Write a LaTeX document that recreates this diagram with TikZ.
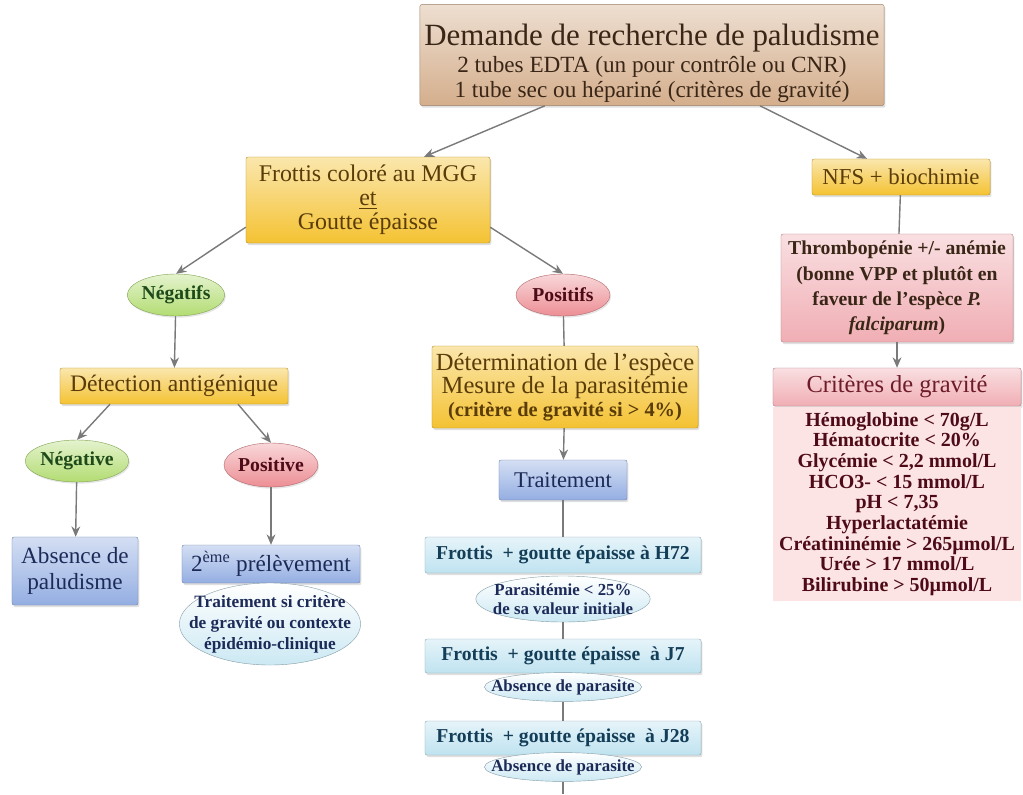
\documentclass[tikz,border=0pt]{standalone}
\usepackage{fontspec}
\setmainfont{Liberation Serif}
\usetikzlibrary{arrows.meta, positioning, shapes.geometric, shadows}
\definecolor{cbrown}{HTML}{D4AE8C}
\definecolor{cyellow}{HTML}{F4C232}
\definecolor{cblue}{HTML}{94AEE2}
\definecolor{cpink}{HTML}{F0AEB4}
\definecolor{clight}{HTML}{BFE3F0}
\definecolor{cgreen}{HTML}{B2DC72}
\definecolor{cred}{HTML}{EC8E94}
\definecolor{cbody}{HTML}{FCE4E4}
\definecolor{cgrey}{HTML}{7A7A7A}
\definecolor{tbrown}{HTML}{3A2616}
\definecolor{tolive}{HTML}{5A3C08}
\definecolor{tgreen}{HTML}{1E4A1A}
\definecolor{tred}{HTML}{4E0A16}
\definecolor{tnavy}{HTML}{1C2A58}
\definecolor{tteal}{HTML}{143E58}
\definecolor{tcrit}{HTML}{6E1C2A}
\tikzset{
  every picture/.style={line width=1.2pt},
  box/.style={draw=#1!75!black, line width=0.3pt, top color=#1!40!white, bottom color=#1,
    rounded corners=1.5pt, align=center, inner sep=2pt,
    drop shadow={opacity=0.25, shadow xshift=1pt, shadow yshift=-1.5pt}},
  box/.default=cyellow,
  oval/.style={ellipse, draw=#1!75!black, line width=0.3pt, top color=#1!35!white, bottom color=#1,
    align=center, inner sep=0pt, font=\fontsize{14}{15}\selectfont\bfseries,
    drop shadow={opacity=0.2, shadow xshift=0.8pt, shadow yshift=-1.2pt}},
  pale/.style={ellipse, draw=clight!70!black, line width=0.3pt, top color=white, bottom color=clight!80,
    align=center, inner xsep=-6pt, inner ysep=-2pt, text=tnavy, font=\fontsize{12}{14}\selectfont\bfseries},
  arrow/.style={-{Stealth[length=2.6mm, width=2.2mm]}, draw=cgrey, line width=1pt},
  link/.style={draw=cgrey, line width=1pt},
}
\begin{document}
\begin{tikzpicture}[x=0.025cm, y=-0.025cm]
  \useasboundingbox (0,0) rectangle (1023,794);
  % request
  \node[box=cbrown, text=tbrown, minimum width=11.6cm, minimum height=2.5cm,
    text height=64pt, text depth=4pt, font=\fontsize{16.5}{17.5}\selectfont] (req) at (652,55)
    {{\fontsize{22}{24}\selectfont Demande de recherche de paludisme}\\[2pt]
     2 tubes EDTA (un pour contrôle ou CNR)\\
     1 tube sec ou hépariné (critères de gravité)};
  % microscopy branch
  \node[box=cyellow, text=tolive, minimum width=6.1cm, minimum height=2.15cm,
    font=\fontsize{17}{17}\selectfont] (mgg) at (368,200)
    {Frottis coloré au MGG\\ \underline{et}\\ Goutte épaisse};
  \node[oval=cgreen, text=tgreen, minimum width=2.35cm, minimum height=1.05cm] (neg) at (176,295) {Négatifs};
  \node[oval=cred, text=tred, minimum width=2.35cm, minimum height=1.05cm] (pos) at (563,295) {Positifs};
  \node[box=cyellow, text=tolive, minimum width=5.7cm, minimum height=0.9cm,
    font=\fontsize{16.8}{18}\selectfont] (ag) at (174,386) {Détection antigénique};
  \node[oval=cgreen, text=tgreen, minimum width=2.25cm, minimum height=1.05cm] (agneg) at (77,461) {Négative};
  \node[oval=cred, text=tred, minimum width=2.35cm, minimum height=1.1cm] (agpos) at (271,465) {Positive};
  \node[box=cblue, text=tnavy, minimum width=3.15cm, minimum height=1.7cm,
    font=\fontsize{16.5}{19}\selectfont] (abs) at (75,571) {Absence de\\paludisme};
  \node[box=cblue, text=tnavy, minimum width=4.45cm, minimum height=0.95cm,
    font=\fontsize{16.5}{18}\selectfont] (redo) at (271,564) {2\textsuperscript{ème} prélèvement};
  \node[pale, inner xsep=-12pt, minimum width=4.5cm, minimum height=2.05cm,
    font=\fontsize{12.3}{15}\selectfont\bfseries] (redonote) at (270,624)
    {Traitement si critère\\de gravité ou contexte\\épidémio-clinique};
  % positive follow-up
  \node[box=cyellow, text=tolive, minimum width=6.65cm, minimum height=2.05cm,
    font=\fontsize{17.5}{16.5}\selectfont] (spec) at (565,387)
    {Détermination de l’espèce\\ Mesure de la parasitémie\\
     {\fontsize{14.5}{14}\selectfont\bfseries (critère de gravité si > 4\%)}};
  \node[box=cblue, text=tnavy, minimum width=3.2cm, minimum height=1cm,
    font=\fontsize{16}{18}\selectfont] (trt) at (563,480) {Traitement};
  \node[box=clight, text=tteal, minimum width=6.9cm, minimum height=0.9cm,
    font=\fontsize{14}{15}\selectfont\bfseries] (h72) at (563,555) {Frottis~ + goutte épaisse à H72};
  \node[pale, inner ysep=-2.5pt, minimum width=4.25cm, minimum height=1.15cm,
    font=\fontsize{12}{13.5}\selectfont\bfseries] (h72note) at (563,599)
    {Parasitémie < 25\%\\de sa valeur initiale};
  \node[box=clight, text=tteal, minimum width=6.9cm, minimum height=0.85cm,
    font=\fontsize{14}{15}\selectfont\bfseries] (j7) at (563,656) {Frottis~ + goutte épaisse~ à J7};
  \node[pale, inner xsep=-11.5pt, inner ysep=0pt, minimum width=3.9cm, minimum height=0.72cm] (j7note) at (563,687) {Absence de parasite};
  \node[box=clight, text=tteal, minimum width=6.9cm, minimum height=0.85cm,
    font=\fontsize{14}{15}\selectfont\bfseries] (j28) at (563,738) {Frottis~ + goutte épaisse~ à J28};
  \node[pale, inner xsep=-11.5pt, inner ysep=0pt, minimum width=3.9cm, minimum height=0.72cm] (j28note) at (563,767) {Absence de parasite};
  \coordinate (end) at (563,794);
  % biology branch
  \node[box=cyellow, text=tolive, minimum width=4.45cm, minimum height=0.9cm,
    font=\fontsize{16.2}{18}\selectfont] (nfs) at (901,177) {NFS + biochimie};
  \node[box=cpink, text=tbrown, minimum width=5.8cm, minimum height=2.7cm,
    font=\fontsize{14}{18}\selectfont\bfseries] (thr) at (897,288)
    {Thrombopénie +/- anémie\\(bonne VPP et plutôt en\\faveur de l’espèce \textit{P.}\\\textit{falciparum})};
  \node[box=cpink, text=tcrit, minimum width=6.2cm, minimum height=0.95cm,
    font=\fontsize{17.4}{18}\selectfont] (crit) at (897,387) {Critères de gravité};
  \node[fill=cbody, text=tred, minimum width=6.2cm, minimum height=4.85cm, inner sep=0pt, align=center,
    anchor=north, font=\fontsize{14.2}{14.7}\selectfont\bfseries] (critlist) at (crit.south)
    {Hémoglobine < 70g/L\\ Hématocrite < 20\%\\ Glycémie < 2,2 mmol/L\\ HCO3- < 15 mmol/L\\
     pH < 7,35\\ Hyperlactatémie\\ Créatininémie > 265µmol/L\\ Urée > 17 mmol/L\\ Bilirubine > 50µmol/L};
  % connectors
  \draw[arrow] ([xshift=-2.68cm]req.south) -- ([xshift=1.4cm]mgg.north);
  \draw[arrow] ([xshift=2.7cm]req.south) -- ([xshift=-0.85cm]nfs.north);
  \draw[arrow] ([yshift=0.4cm]mgg.south west) -- (neg.north);
  \draw[arrow] ([yshift=0.4cm]mgg.south east) -- (pos.north);
  \draw[arrow] (neg) -- (ag);
  \draw[link] (pos) -- (spec);
  \draw[arrow] ([xshift=-1.6cm]ag.south) -- (agneg.north);
  \draw[arrow] ([xshift=1.6cm]ag.south) -- (agpos.north);
  \draw[arrow] (agneg) -- (abs);
  \draw[arrow] (agpos) -- (redo);
  \draw[arrow] (spec) -- (trt);
  \draw[link] (trt) -- (h72);
  \draw[link] (h72note) -- (j7);
  \draw[link] (j7note) -- (j28);
  \draw[link] (j28note) -- (end);
  \draw[link] (nfs) -- (thr);
  \draw[arrow] (thr) -- (crit);
\end{tikzpicture}
\end{document}
